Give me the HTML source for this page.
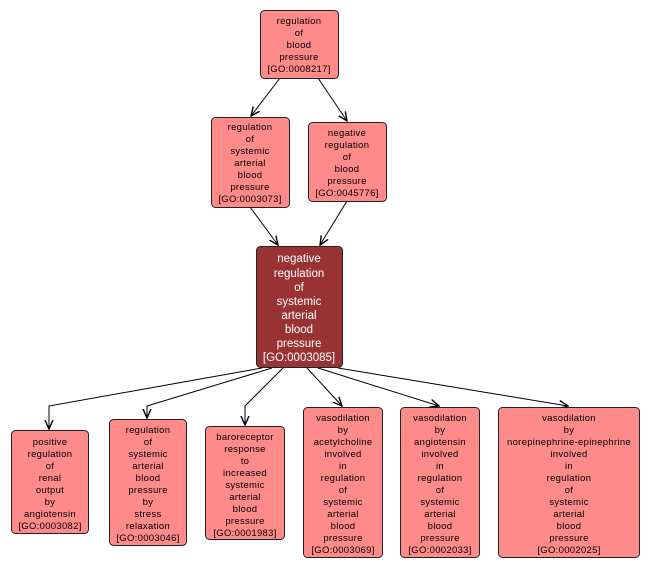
<!DOCTYPE html>
<html><head><meta charset="utf-8"><style>
html,body{margin:0;padding:0;background:#fff;}
svg{display:block;}
text{font-family:"Liberation Sans",sans-serif;font-size:9.5px;text-anchor:middle;fill:#000;letter-spacing:0.3px;}
.w text{fill:#fff;font-size:11.5px;letter-spacing:0;}
rect{fill:#ff8a8a;stroke:#222;stroke-width:1;}
.l{stroke:#000;stroke-width:1;fill:none;marker-end:url(#a);}
</style></head><body>
<svg width="652" height="568" viewBox="0 0 652 568">
<defs><marker id="a" markerWidth="10" markerHeight="10" refX="9" refY="5" orient="auto" markerUnits="userSpaceOnUse"><path d="M0,1 L9,5 L0,9" fill="none" stroke="#000" stroke-width="1.4"/></marker></defs>
<path class="l" d="M280,78 L251,116"/>
<path class="l" d="M318,78 L347,121"/>
<path class="l" d="M250,207 L278,245"/>
<path class="l" d="M347,201 L320,245"/>
<path class="l" d="M262,368 L49,406 L49,429"/>
<path class="l" d="M272,368 L147,406 L147,418"/>
<path class="l" d="M283,368 L245,406 L245,425"/>
<path class="l" d="M307,368 L342,406"/>
<path class="l" d="M318,368 L439,406"/>
<path class="l" d="M338,368 L568,406"/>

<rect x="260.5" y="10.5" width="78" height="68" rx="4"/>
<g><text x="299" y="24">regulation</text><text x="299" y="36">of</text><text x="299" y="48">blood</text><text x="299" y="60">pressure</text><text x="299" y="72">[GO:0008217]</text></g>

<rect x="211.5" y="117.5" width="78" height="90" rx="4"/>
<g><text x="250" y="130">regulation</text><text x="250" y="142">of</text><text x="250" y="154">systemic</text><text x="250" y="166">arterial</text><text x="250" y="178">blood</text><text x="250" y="190">pressure</text><text x="250" y="202">[GO:0003073]</text></g>

<rect x="308.5" y="122.5" width="78" height="79" rx="4"/>
<g><text x="347" y="136">negative</text><text x="347" y="148">regulation</text><text x="347" y="160">of</text><text x="347" y="172">blood</text><text x="347" y="184">pressure</text><text x="347" y="196">[GO:0045776]</text></g>

<rect x="256.5" y="246.5" width="86" height="121" rx="4" style="fill:#993333"/>
<g class="w"><text x="299" y="262">negative</text><text x="299" y="277">regulation</text><text x="299" y="291">of</text><text x="299" y="305">systemic</text><text x="299" y="319">arterial</text><text x="299" y="333">blood</text><text x="299" y="347">pressure</text><text x="299" y="361">[GO:0003085]</text></g>

<rect x="11.5" y="430.5" width="77" height="103" rx="4"/>
<g><text x="50" y="445">positive</text><text x="50" y="457">regulation</text><text x="50" y="469">of</text><text x="50" y="481">renal</text><text x="50" y="493">output</text><text x="50" y="505">by</text><text x="50" y="517">angiotensin</text><text x="50" y="529">[GO:0003082]</text></g>

<rect x="109.5" y="419.5" width="77" height="126" rx="4"/>
<g><text x="148" y="433">regulation</text><text x="148" y="445">of</text><text x="148" y="457">systemic</text><text x="148" y="469">arterial</text><text x="148" y="481">blood</text><text x="148" y="493">pressure</text><text x="148" y="505">by</text><text x="148" y="517">stress</text><text x="148" y="529">relaxation</text><text x="148" y="541">[GO:0003046]</text></g>

<rect x="205.5" y="426.5" width="79" height="113" rx="4"/>
<g><text x="245" y="440">baroreceptor</text><text x="245" y="452">response</text><text x="245" y="464">to</text><text x="245" y="476">increased</text><text x="245" y="488">systemic</text><text x="245" y="500">arterial</text><text x="245" y="512">blood</text><text x="245" y="524">pressure</text><text x="245" y="536">[GO:0001983]</text></g>

<rect x="303.5" y="407.5" width="79" height="150" rx="4"/>
<g><text x="343" y="421">vasodilation</text><text x="343" y="433">by</text><text x="343" y="445">acetylcholine</text><text x="343" y="457">involved</text><text x="343" y="469">in</text><text x="343" y="481">regulation</text><text x="343" y="493">of</text><text x="343" y="505">systemic</text><text x="343" y="517">arterial</text><text x="343" y="529">blood</text><text x="343" y="541">pressure</text><text x="343" y="553">[GO:0003069]</text></g>

<rect x="400.5" y="407.5" width="79" height="150" rx="4"/>
<g><text x="440" y="421">vasodilation</text><text x="440" y="433">by</text><text x="440" y="445">angiotensin</text><text x="440" y="457">involved</text><text x="440" y="469">in</text><text x="440" y="481">regulation</text><text x="440" y="493">of</text><text x="440" y="505">systemic</text><text x="440" y="517">arterial</text><text x="440" y="529">blood</text><text x="440" y="541">pressure</text><text x="440" y="553">[GO:0002033]</text></g>

<rect x="498.5" y="407.5" width="141" height="150" rx="4"/>
<g><text x="569" y="421">vasodilation</text><text x="569" y="433">by</text><text x="569" y="445">norepinephrine-epinephrine</text><text x="569" y="457">involved</text><text x="569" y="469">in</text><text x="569" y="481">regulation</text><text x="569" y="493">of</text><text x="569" y="505">systemic</text><text x="569" y="517">arterial</text><text x="569" y="529">blood</text><text x="569" y="541">pressure</text><text x="569" y="553">[GO:0002025]</text></g>
</svg>
</body></html>
